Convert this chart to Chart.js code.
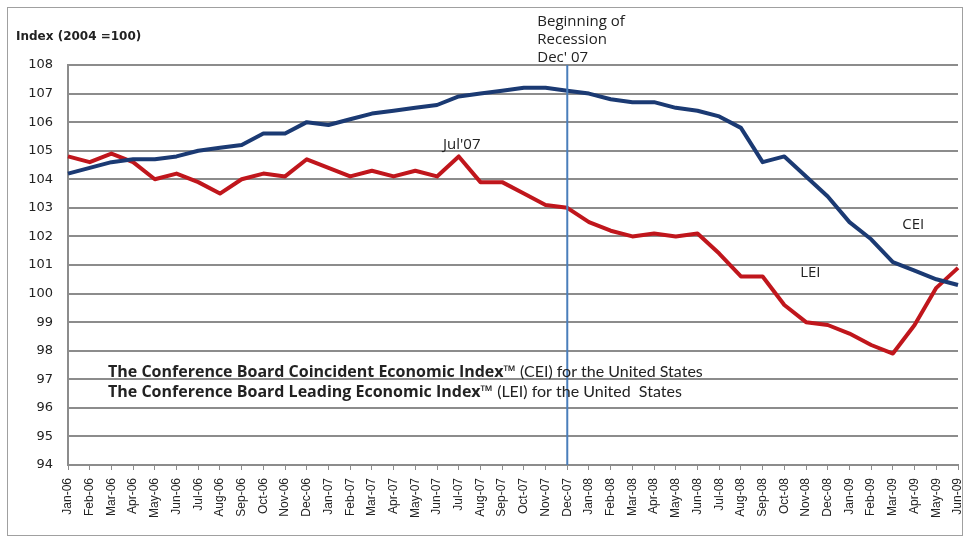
<!DOCTYPE html>
<html>
<head>
<meta charset="utf-8">
<script src="https://cdn.jsdelivr.net/npm/chart.js@4/dist/chart.umd.min.js"></script>
<style>
  html, body { margin: 0; padding: 0; background: #fff; }
  #wrap { width: 965px; height: 537px; }
</style>
</head>
<body>
<div id="wrap"><canvas id="lineChart" width="965" height="537"></canvas></div>
<script>
// months Jan-06 .. Jun-09
const months = ['Jan-06','Feb-06','Mar-06','Apr-06','May-06','Jun-06','Jul-06','Aug-06','Sep-06','Oct-06','Nov-06','Dec-06',
  'Jan-07','Feb-07','Mar-07','Apr-07','May-07','Jun-07','Jul-07','Aug-07','Sep-07','Oct-07','Nov-07','Dec-07',
  'Jan-08','Feb-08','Mar-08','Apr-08','May-08','Jun-08','Jul-08','Aug-08','Sep-08','Oct-08','Nov-08','Dec-08',
  'Jan-09','Feb-09','Mar-09','Apr-09','May-09','Jun-09'];

const cei = [104.2, 104.4, 104.6, 104.7, 104.7, 104.8, 105.0, 105.1, 105.2, 105.6, 105.6, 106.0,
  105.9, 106.1, 106.3, 106.4, 106.5, 106.6, 106.9, 107.0, 107.1, 107.2, 107.2, 107.1,
  107.0, 106.8, 106.7, 106.7, 106.5, 106.4, 106.2, 105.8, 104.6, 104.8, 104.1, 103.4,
  102.5, 101.9, 101.1, 100.8, 100.5, 100.3];

const lei = [104.8, 104.6, 104.9, 104.6, 104.0, 104.2, 103.9, 103.5, 104.0, 104.2, 104.1, 104.7,
  104.4, 104.1, 104.3, 104.1, 104.3, 104.1, 104.8, 103.9, 103.9, 103.5, 103.1, 103.0,
  102.5, 102.2, 102.0, 102.1, 102.0, 102.1, 101.4, 100.6, 100.6, 99.6, 99.0, 98.9,
  98.6, 98.2, 97.9, 98.9, 100.2, 100.9];

const yMin = 94, yMax = 108;
const recessionMonth = 'Dec-07';

const annotations = {
  id: 'annotations',
  beforeDraw(chart) {
    const c = chart.ctx;
    c.save();
    c.fillStyle = '#fff';
    c.fillRect(0, 0, chart.width, chart.height);
    c.strokeStyle = '#a0a0a0';
    c.lineWidth = 1;
    c.strokeRect(7.5, 7.5, 955, 528);
    c.restore();
  },
  afterDatasetsDraw(chart) {
    const c = chart.ctx;
    const x = chart.scales.x;
    const y = chart.scales.y;
    c.save();
    // recession line
    const rx = x.getPixelForValue(months.indexOf(recessionMonth));
    c.strokeStyle = '#4a7ebb';
    c.lineWidth = 2;
    c.beginPath();
    c.moveTo(rx, y.top);
    c.lineTo(rx, y.bottom);
    c.stroke();

    c.fillStyle = '#222';
    c.textBaseline = 'middle';
    c.textAlign = 'left';
    c.font = 'bold 12px "DejaVu Sans"';
    c.fillText('Index (2004 =100)', 16, 37);

    c.font = '15px "Open Sans"';
    c.fillText('Beginning of', rx - 30, 22);
    c.fillText('Recession', rx - 30, 40);
    c.fillText("Dec' 07", rx - 30, 58);

    const jx = x.getPixelForValue(months.indexOf('Jul-07'));
    c.textAlign = 'center';
    c.fillText("Jul'07", jx + 3, 145);
    c.fillText('CEI', x.getPixelForValue(months.indexOf('Feb-09')) + 42, 225);
    c.fillText('LEI', x.getPixelForValue(months.indexOf('Oct-08')) + 26, 273);

    c.textAlign = 'left';
    const lines = [
      ['The Conference Board Coincident Economic Index\u2122', '(CEI) for the United States', 372],
      ['The Conference Board Leading Economic Index\u2122', '(LEI) for the United  States', 392]
    ];
    lines.forEach(([b, n, ty]) => {
      c.font = 'bold 16px "Open Sans"';
      c.fillText(b, 108, ty);
      const w = c.measureText(b + ' ').width;
      c.font = '16px Lato';
      c.fillText(n, 108 + w, ty);
    });
    c.restore();
  }
};

const ctxLine = document.getElementById('lineChart').getContext('2d');
const lineChart = new Chart(ctxLine, {
  type: 'line',
  data: {
    labels: months,
    datasets: [{
      label: 'CEI',
      data: cei,
      borderColor: '#1b3a73',
      borderWidth: 4,
      pointRadius: 0,
      fill: false,
      borderJoinStyle: 'round'
    }, {
      label: 'LEI',
      data: lei,
      borderColor: '#c0161c',
      borderWidth: 4,
      pointRadius: 0,
      fill: false,
      borderJoinStyle: 'round'
    }]
  },
  options: {
    responsive: false,
    animation: false,
    layout: { padding: { top: 65, right: 7, left: 0, bottom: 0 } },
    plugins: {
      legend: { display: false },
      tooltip: { enabled: false }
    },
    scales: {
      x: {
        offset: false,
        afterFit(s) { s.height = 72; s.paddingLeft = 0; s.paddingRight = 0; },
        grid: { drawOnChartArea: false, drawTicks: true, tickLength: 5, color: '#8c8c8c', lineWidth: 1 },
        border: { color: '#8c8c8c', width: 2 },
        ticks: {
          autoSkip: false, maxRotation: 90, minRotation: 90, padding: 8,
          color: '#222', font: { family: 'Liberation Sans', size: 12 }
        }
      },
      y: {
        min: yMin,
        max: yMax,
        afterFit(s) { s.width = 68; },
        grid: { color: '#8c8c8c', lineWidth: 2, drawTicks: false },
        border: { color: '#8c8c8c', width: 2 },
        ticks: {
          stepSize: 1, padding: 15,
          color: '#222', font: { family: 'DejaVu Sans', size: 13 }
        }
      }
    }
  },
  plugins: [annotations]
});
</script>
</body>
</html>
